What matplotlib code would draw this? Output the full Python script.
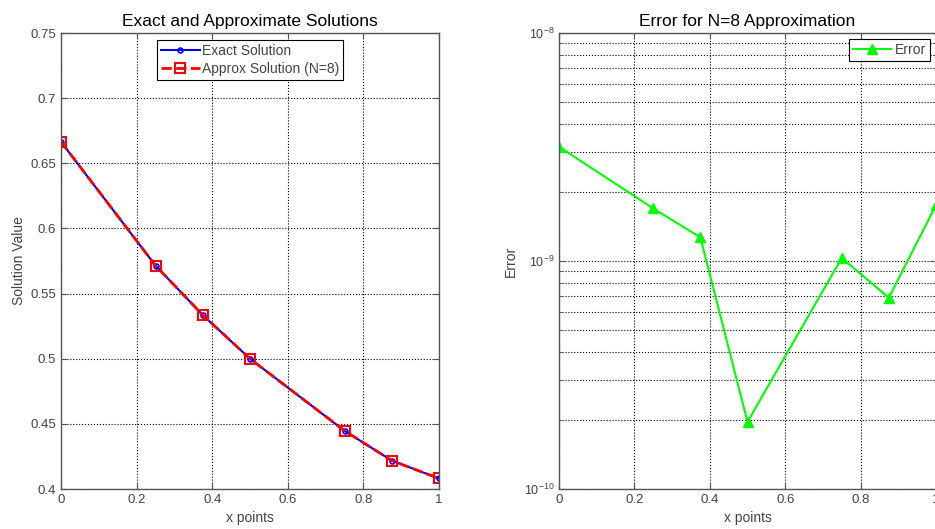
import matplotlib
matplotlib.use("Agg")
import matplotlib.pyplot as plt
from matplotlib.ticker import FixedLocator, FuncFormatter, LogLocator, NullFormatter

# data
x_pts = [0, 0.25, 0.375, 0.5, 0.75, 0.875, 1.0]
exact = [0.6665, 0.5715, 0.5335, 0.5000, 0.4447, 0.4218, 0.4081]
approx = [0.6665, 0.5715, 0.5335, 0.5000, 0.4447, 0.4218, 0.4081]
err = [3.17e-9, 1.70e-9, 1.27e-9, 1.97e-10, 1.03e-9, 6.9e-10, 1.76e-9]

plt.rcParams['font.family'] = ['Liberation Sans', 'DejaVu Sans']
tick_col = '#444444'

fig = plt.figure(figsize=(9.35, 5.29), dpi=100)
W, H = 935.0, 529.0

def style_axes(ax):
   for s in ax.spines.values():
      s.set_color('#555555')
      s.set_linewidth(1.0)
   ax.tick_params(which='both', direction='in', top=True, right=True,
                  labelsize=9.5, colors='#555555', labelcolor=tick_col, length=4)
   ax.tick_params(which='minor', length=2)

# left plot
ax1 = fig.add_axes([61/W, 1 - 489/H, (439-61)/W, (489-33)/H])
ax1.plot(x_pts, exact, '-o', color='blue', lw=1.5, ms=3.5, mfc='none', mew=1.2,
         label='Exact Solution')
ax1.plot(x_pts, approx, '--s', color='red', lw=2, ms=7, mfc='none', mew=1.5,
         label='Approx Solution (N=8)')
ax1.set_xlim(0, 1)
ax1.set_ylim(0.4, 0.75)
ax1.xaxis.set_major_locator(FixedLocator([0, 0.2, 0.4, 0.6, 0.8, 1]))
ax1.yaxis.set_major_locator(FixedLocator([0.4, 0.45, 0.5, 0.55, 0.6, 0.65, 0.7, 0.75]))
fmt = FuncFormatter(lambda v, p: ('%g' % round(v, 3)))
ax1.xaxis.set_major_formatter(fmt)
ax1.yaxis.set_major_formatter(fmt)
ax1.grid(True, linestyle=':', color='black', lw=0.8)
style_axes(ax1)
ax1.set_title('Exact and Approximate Solutions', fontsize=12.5, pad=5)
ax1.set_xlabel('x points', fontsize=10, color=tick_col, labelpad=4)
ax1.set_ylabel('Solution Value', fontsize=10, color=tick_col, labelpad=3)
leg1 = ax1.legend(loc='upper center', fontsize=10, fancybox=False, framealpha=1,
                  edgecolor='black', borderpad=0.3, handlelength=2.8,
                  handletextpad=0.15, borderaxespad=0.5, labelspacing=0.3)
leg1.get_frame().set_linewidth(0.8)
for t in leg1.get_texts():
   t.set_color(tick_col)

# right plot (cut off at the right edge like the reference)
ax2 = fig.add_axes([559/W, 1 - 489/H, (936-559)/W, (489-33)/H])
ax2.semilogy(x_pts, err, '-^', color=(0, 1, 0), lw=1.5, ms=7.5, label='Error')
ax2.set_xlim(0, 1)
ax2.set_ylim(1e-10, 1e-8)
ax2.xaxis.set_major_locator(FixedLocator([0, 0.2, 0.4, 0.6, 0.8, 1]))
ax2.xaxis.set_major_formatter(fmt)
ax2.yaxis.set_major_locator(LogLocator(base=10, numticks=5))
ax2.yaxis.set_minor_locator(LogLocator(base=10, subs=range(2, 10), numticks=10))
ax2.yaxis.set_minor_formatter(NullFormatter())
ax2.grid(True, which='major', linestyle=':', color='black', lw=0.8)
ax2.grid(True, which='minor', axis='y', linestyle=':', color='black', lw=0.8)
style_axes(ax2)
ax2.tick_params(axis='y', labelsize=9)
ax2.set_title('Error for N=8 Approximation', fontsize=12.5, pad=5)
ax2.set_xlabel('x points', fontsize=10, color=tick_col, labelpad=4)
ax2.set_ylabel('Error', fontsize=10, color=tick_col, labelpad=4)
leg2 = ax2.legend(loc='upper right', fontsize=10, fancybox=False, framealpha=1,
                  edgecolor='black', borderpad=0.3, handlelength=2.7,
                  handletextpad=0.3, borderaxespad=0.4)
leg2.get_frame().set_linewidth(0.8)
for t in leg2.get_texts():
   t.set_color(tick_col)

fig.savefig('out.png', dpi=100)
